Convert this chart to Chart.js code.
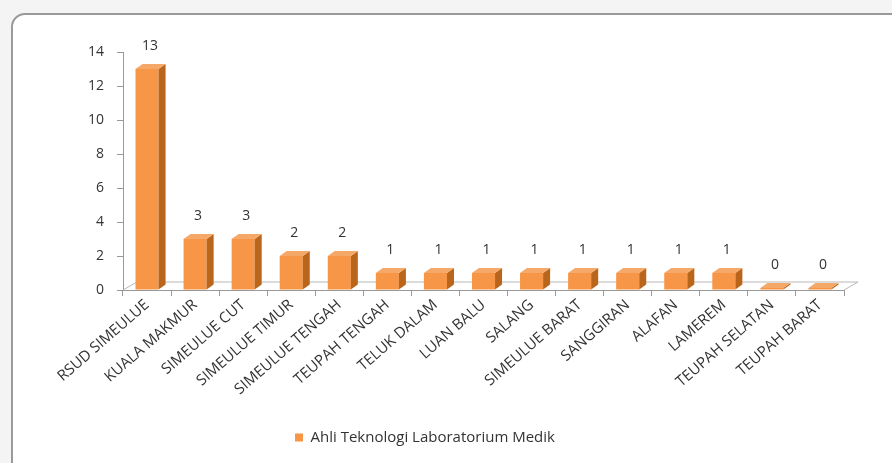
<!DOCTYPE html>
<html>
<head>
<meta charset="utf-8">
<script src="https://cdn.jsdelivr.net/npm/chart.js@4.4.0/dist/chart.umd.min.js"></script>
<style>
  html, body { margin: 0; padding: 0; background: #f4f4f4; }
  .card {
    position: absolute; left: 11px; top: 13px; width: 900px; height: 470px;
    background: #fff; border: 2px solid #9a9a9a; border-radius: 14px;
  }
  canvas { position: absolute; left: 0; top: 0; }
</style>
</head>
<body>
<div class="card"></div>
<canvas id="chart" width="892" height="463"></canvas>
<script>
const categories = ["RSUD SIMEULUE", "KUALA MAKMUR", "SIMEULUE CUT", "SIMEULUE TIMUR", "SIMEULUE TENGAH", "TEUPAH TENGAH", "TELUK DALAM", "LUAN BALU", "SALANG", "SIMEULUE BARAT", "SANGGIRAN", "ALAFAN", "LAMEREM", "TEUPAH SELATAN", "TEUPAH BARAT"];
const values = [13, 3, 3, 2, 2, 1, 1, 1, 1, 1, 1, 1, 1, 0, 0];
const seriesName = "Ahli Teknologi Laboratorium Medik";
const yTicks = [0, 2, 4, 6, 8, 10, 12, 14];

const depthX = 7, depthY = 5;
const fontFamily = "'Open Sans', sans-serif";

// fake 3d look: floor, side faces and value labels
const bars3d = {
  id: "bars3d",
  beforeDatasetsDraw(chart) {
    const { ctx, chartArea } = chart;
    const y0 = chart.scales.y.getPixelForValue(0);
    ctx.save();
    ctx.strokeStyle = "#b8b8b8";
    ctx.lineWidth = 1;
    ctx.beginPath();
    ctx.moveTo(chartArea.left, y0);
    ctx.lineTo(chartArea.left + 14, y0 - 8);
    ctx.lineTo(chartArea.right + 14, y0 - 8);
    ctx.lineTo(chartArea.right, y0);
    ctx.stroke();
    ctx.restore();
  },
  afterDatasetsDraw(chart) {
    const { ctx } = chart;
    const meta = chart.getDatasetMeta(0);
    ctx.save();
    meta.data.forEach((bar, i) => {
      const half = bar.width / 2;
      const l = bar.x - half, r = bar.x + half;
      const top = bar.y, base = bar.base;
      ctx.fillStyle = "#b9651c";
      ctx.beginPath();
      ctx.moveTo(r, top);
      ctx.lineTo(r + depthX, top - depthY);
      ctx.lineTo(r + depthX, base - depthY);
      ctx.lineTo(r, base);
      ctx.closePath();
      ctx.fill();
      ctx.fillStyle = "#f6a868";
      ctx.beginPath();
      ctx.moveTo(l, top);
      ctx.lineTo(l + depthX, top - depthY);
      ctx.lineTo(r + depthX, top - depthY);
      ctx.lineTo(r, top);
      ctx.closePath();
      ctx.fill();
      ctx.fillStyle = "#333";
      ctx.font = "14px " + fontFamily;
      ctx.textAlign = "center";
      ctx.textBaseline = "middle";
      ctx.fillText(String(values[i]), bar.x + 3, top - 23);
    });
    ctx.restore();
  }
};

new Chart(document.getElementById("chart").getContext("2d"), {
  type: "bar",
  data: {
    labels: categories,
    datasets: [
      {
        label: seriesName,
        data: values,
        backgroundColor: "#f79646",
        borderWidth: 0,
        barPercentage: 0.48,
        categoryPercentage: 1,
        minBarLength: 2,
      },
    ],
  },
  options: {
    responsive: false,
    animation: false,
    layout: { padding: { left: 6, right: 48, top: 52, bottom: 8 } },
    plugins: {
      legend: {
        position: "bottom",
        labels: {
          boxWidth: 8,
          boxHeight: 8,
          color: "#333",
          font: { family: fontFamily, size: 15 },
          padding: 10,
        },
      },
      tooltip: { enabled: false },
    },
    scales: {
      x: {
        grid: { drawOnChartArea: false, color: "#999", tickLength: 6 },
        border: { color: "#999" },
        afterFit(scale) {
          scale.height = 130;
        },
        ticks: {
          color: "#333",
          font: { family: fontFamily, size: 15 },
          minRotation: 41,
          maxRotation: 41,
          padding: 0,
        },
      },
      y: {
        min: 0,
        max: 14,
        grid: { drawOnChartArea: false, color: "#999", tickLength: 6 },
        border: { color: "#999" },
        afterFit(scale) {
          scale.width = 117;
        },
        afterBuildTicks(scale) {
          scale.ticks = yTicks.map((v) => ({ value: v }));
        },
        ticks: {
          color: "#333",
          font: { family: fontFamily, size: 14 },
          padding: 13,
        },
      },
    },
  },
  plugins: [bars3d],
});
</script>
</body>
</html>
